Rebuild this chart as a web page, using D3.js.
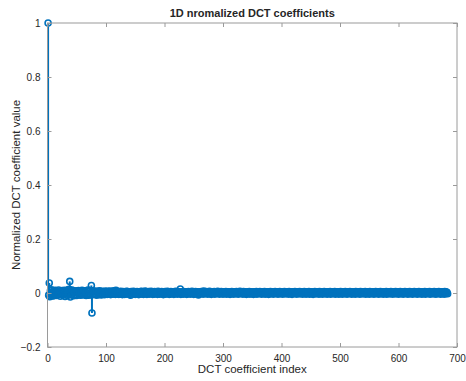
<!DOCTYPE html>
<html>
<head>
<meta charset="utf-8">
<script src="https://cdn.jsdelivr.net/npm/d3@7"></script>
<style>
  body { margin: 0; background: #fff; }
  text { font-family: "Liberation Sans", Arial, sans-serif; fill: #262626; }
</style>
</head>
<body>
<div id="root"></div>
<script>
// DCT coefficients, in thousandths (index starts at 1)
const coefThousandths = [
  1000, -8, 37, -14, 9, -6, 12, -10, 5, -11, 8, -4, 10, -7, 3, -9, 6, -5, 11, -3,
  7, -12, 4, -6, 9, -8, 2, -5, 10, -13, 6, -3, 8, -9, 12, -6, 14, 43, -15, 9,
  -7, 11, -4, 6, -10, 3, 8, -6, 5, -9, 7, -2, 9, -5, 4, -8, 6, -3, 10, -7,
  5, -4, 8, -6, 3, -9, 7, -5, 11, -8, 6, -4, 9, -7, 28, -74, 8, -6, 5, -3,
  7, -5, 4, -8, 6, -2, 5, -6, 8, -4, 3, -7, 6, -3, 5, -5, 4, -6, 7, -2,
  4, -5, 6, -3, 5, -4, 7, -6, 3, -2, 5, -4, 8, -3, 4, -5, 10, -3, 6, -4,
  3, -5, 4, -2, 6, -4, 3, -6, 5, -3, 4, -5, 2, -4, 6, -3, 5, -2, 4, -5,
  3, -8, 5, -3, 4, -2, 6, -4, 3, -5, 4, -3, 5, -2, 3, -6, 4, -3, 5, -2,
  6, -4, 3, -5, 4, -2, 7, -3, 4, -5, 3, -2, 5, -4, 3, -3, 6, -2, 4, -5,
  3, -4, 5, -3, 4, -2, 3, -5, 6, -3, 4, -4, 3, -2, 5, -3, 4, -6, 3, -2,
  5, -4, 3, -3, 6, -2, 4, -5, 3, -4, 5, -2, 4, -3, 3, -5, 4, -2, 6, -3,
  3, -4, 5, -2, 4, -3, 15, -5, 4, -2, 3, -4, 5, -3, 4, -2, 3, -5, 4, -3,
  5, -2, 3, -4, 4, -3, 6, -2, 3, -5, 4, -3, 5, -2, 3, -4, 4, -7, 3, -2,
  4, -3, 5, -2, 3, -4, 7, -3, 4, -2, 5, -3, 3, -4, 4, -2, 6, -3, 3, -5,
  4, -2, 3, -3, 5, -4, 3, -2, 4, -3, 6, -2, 3, -4, 4, -3, 5, -2, 3, -4,
  4, -3, 3, -2, 5, -4, 3, -3, 4, -2, 3, -5, 4, -3, 5, -2, 3, -4, 4, -3,
  3, -2, 5, -3, 4, -4, 3, -2, 6, -3, 4, -2, 3, -4, 5, -3, 3, -2, 4, -5,
  3, -3, 4, -2, 5, -4, 3, -2, 4, -3, 3, -5, 4, -2, 3, -3, 5, -4, 3, -2,
  4, -3, 5, -2, 3, -4, 4, -3, 3, -2, 5, -4, 3, -3, 4, -2, 3, -5, 4, -3,
  5, -2, 3, -3, 4, -4, 3, -2, 5, -3, 4, -2, 3, -4, 4, -3, 5, -2, 3, -3,
  4, -4, 3, -2, 5, -3, 3, -3, 4, -2, 3, -4, 5, -2, 4, -3, 3, -5, 4, -2,
  3, -3, 5, -2, 4, -4, 3, -2, 4, -3, 5, -3, 3, -2, 4, -4, 3, -3, 5, -2,
  3, -4, 4, -2, 3, -3, 5, -4, 3, -2, 4, -3, 3, -5, 4, -2, 5, -3, 3, -3,
  4, -2, 3, -4, 5, -3, 3, -2, 4, -4, 3, -3, 5, -2, 4, -3, 3, -4, 4, -2,
  3, -3, 5, -4, 3, -2, 4, -3, 3, -2, 5, -4, 4, -3, 3, -2, 4, -4, 3, -3,
  5, -2, 3, -4, 4, -3, 3, -2, 5, -3, 4, -4, 3, -2, 4, -3, 5, -2, 3, -4,
  4, -3, 3, -2, 4, -4, 5, -3, 3, -2, 4, -3, 3, -4, 5, -2, 4, -3, 3, -3,
  4, -2, 5, -4, 3, -3, 4, -2, 3, -4, 5, -3, 3, -2, 4, -3, 4, -4, 3, -2,
  5, -3, 3, -2, 4, -4, 3, -3, 5, -2, 4, -3, 3, -4, 4, -2, 3, -3, 5, -4,
  3, -2, 4, -3, 3, -3, 5, -2, 4, -4, 3, -2, 4, -3, 5, -3, 3, -2, 4, -4,
  3, -3, 5, -2, 4, -3, 3, -4, 4, -2, 5, -3, 3, -2, 4, -4, 3, -3, 5, -2,
  4, -3, 3, -4, 4, -2, 5, -3, 3, -2, 4, -4, 3, -3, 5, -2, 4, -3, 3, -4,
  4, -2, 3, -3, 5, -4, 3, -2, 4, -3, 3, -2, 5, -4, 4, -3, 3, -2, 4, -3,
  5, -3, 3, -4, 4, -2, 3, -3, 5, -2, 4, -4, 3, -3, 4, -2, 3, -4, 5, -3,
  4, -2, 3, -3
];
const xTicks = [0, 100, 200, 300, 400, 500, 600, 700];
const yTicks = [-0.2, 0, 0.2, 0.4, 0.6, 0.8, 1];

const titleText = "1D nromalized DCT coefficients";
const xLabelText = "DCT coefficient index";
const yLabelText = "Normalized DCT coefficient value";

const data = coefThousandths.map((v, i) => ({ k: i + 1, v: v / 1000 }));

const svg = d3.select("#root").append("svg")
  .attr("width", 466)
  .attr("height", 381);

const margin = { top: 23, right: 9, bottom: 34, left: 47.5 },
  width = 466 - margin.left - margin.right,
  height = 381 - margin.top - margin.bottom;

const g = svg.append("g")
  .attr("transform", `translate(${margin.left},${margin.top})`);

const x = d3.scaleLinear().domain([0, 700]).range([0, width]);
const y = d3.scaleLinear().domain([-0.2, 1]).range([height, 0]);

const blue = "#0072bd";
const axisColor = "#9a9a9a";
const tickLen = 4;

// stems
g.append("g")
  .selectAll("line")
  .data(data)
  .join("line")
  .attr("x1", d => x(d.k))
  .attr("x2", d => x(d.k))
  .attr("y1", y(0))
  .attr("y2", d => y(d.v))
  .attr("stroke", blue)
  .attr("stroke-width", 2);

// baseline
g.append("line")
  .attr("x1", x(1)).attr("x2", x(data.length))
  .attr("y1", y(0)).attr("y2", y(0))
  .attr("stroke", blue)
  .attr("stroke-width", 2);

// markers
g.append("g")
  .selectAll("circle")
  .data(data)
  .join("circle")
  .attr("cx", d => x(d.k))
  .attr("cy", d => y(d.v))
  .attr("r", 3)
  .attr("fill", "none")
  .attr("stroke", blue)
  .attr("stroke-width", 1.6);

// axes: ticks inward on all four sides
function styleAxis(sel) {
  sel.select(".domain").remove();
  sel.selectAll(".tick line").attr("stroke", axisColor);
  sel.selectAll(".tick text")
    .style("font-size", "10px")
    .style("font-family", "'Liberation Sans', Arial, sans-serif")
    .attr("fill", "#262626");
}

g.append("g")
  .attr("transform", `translate(0,${height})`)
  .call(d3.axisBottom(x).tickValues(xTicks).tickSize(-tickLen).tickPadding(8).tickFormat(d3.format("d")))
  .call(styleAxis);

g.append("g")
  .call(d3.axisTop(x).tickValues(xTicks).tickSize(-tickLen).tickFormat(""))
  .call(styleAxis);

g.append("g")
  .call(d3.axisLeft(y).tickValues(yTicks).tickSize(-tickLen).tickPadding(7).tickFormat(d => d === 0 ? "0" : d3.format(".1f")(d).replace(/\.0$/, "")))
  .call(styleAxis);

g.append("g")
  .attr("transform", `translate(${width},0)`)
  .call(d3.axisRight(y).tickValues(yTicks).tickSize(-tickLen).tickFormat(""))
  .call(styleAxis);

// box
g.append("rect")
  .attr("width", width)
  .attr("height", height)
  .attr("fill", "none")
  .attr("stroke", axisColor)
  .attr("stroke-width", 1);

// title and labels
svg.append("text")
  .attr("x", margin.left + width / 2)
  .attr("y", 17)
  .attr("text-anchor", "middle")
  .style("font-size", "11px")
  .style("font-weight", "bold")
  .text(titleText);

svg.append("text")
  .attr("x", margin.left + width / 2)
  .attr("y", 373)
  .attr("text-anchor", "middle")
  .style("font-size", "11.5px")
  .text(xLabelText);

svg.append("text")
  .attr("transform", `translate(20,${margin.top + height / 2}) rotate(-90)`)
  .attr("text-anchor", "middle")
  .style("font-size", "11.5px")
  .text(yLabelText);
</script>
</body>
</html>
